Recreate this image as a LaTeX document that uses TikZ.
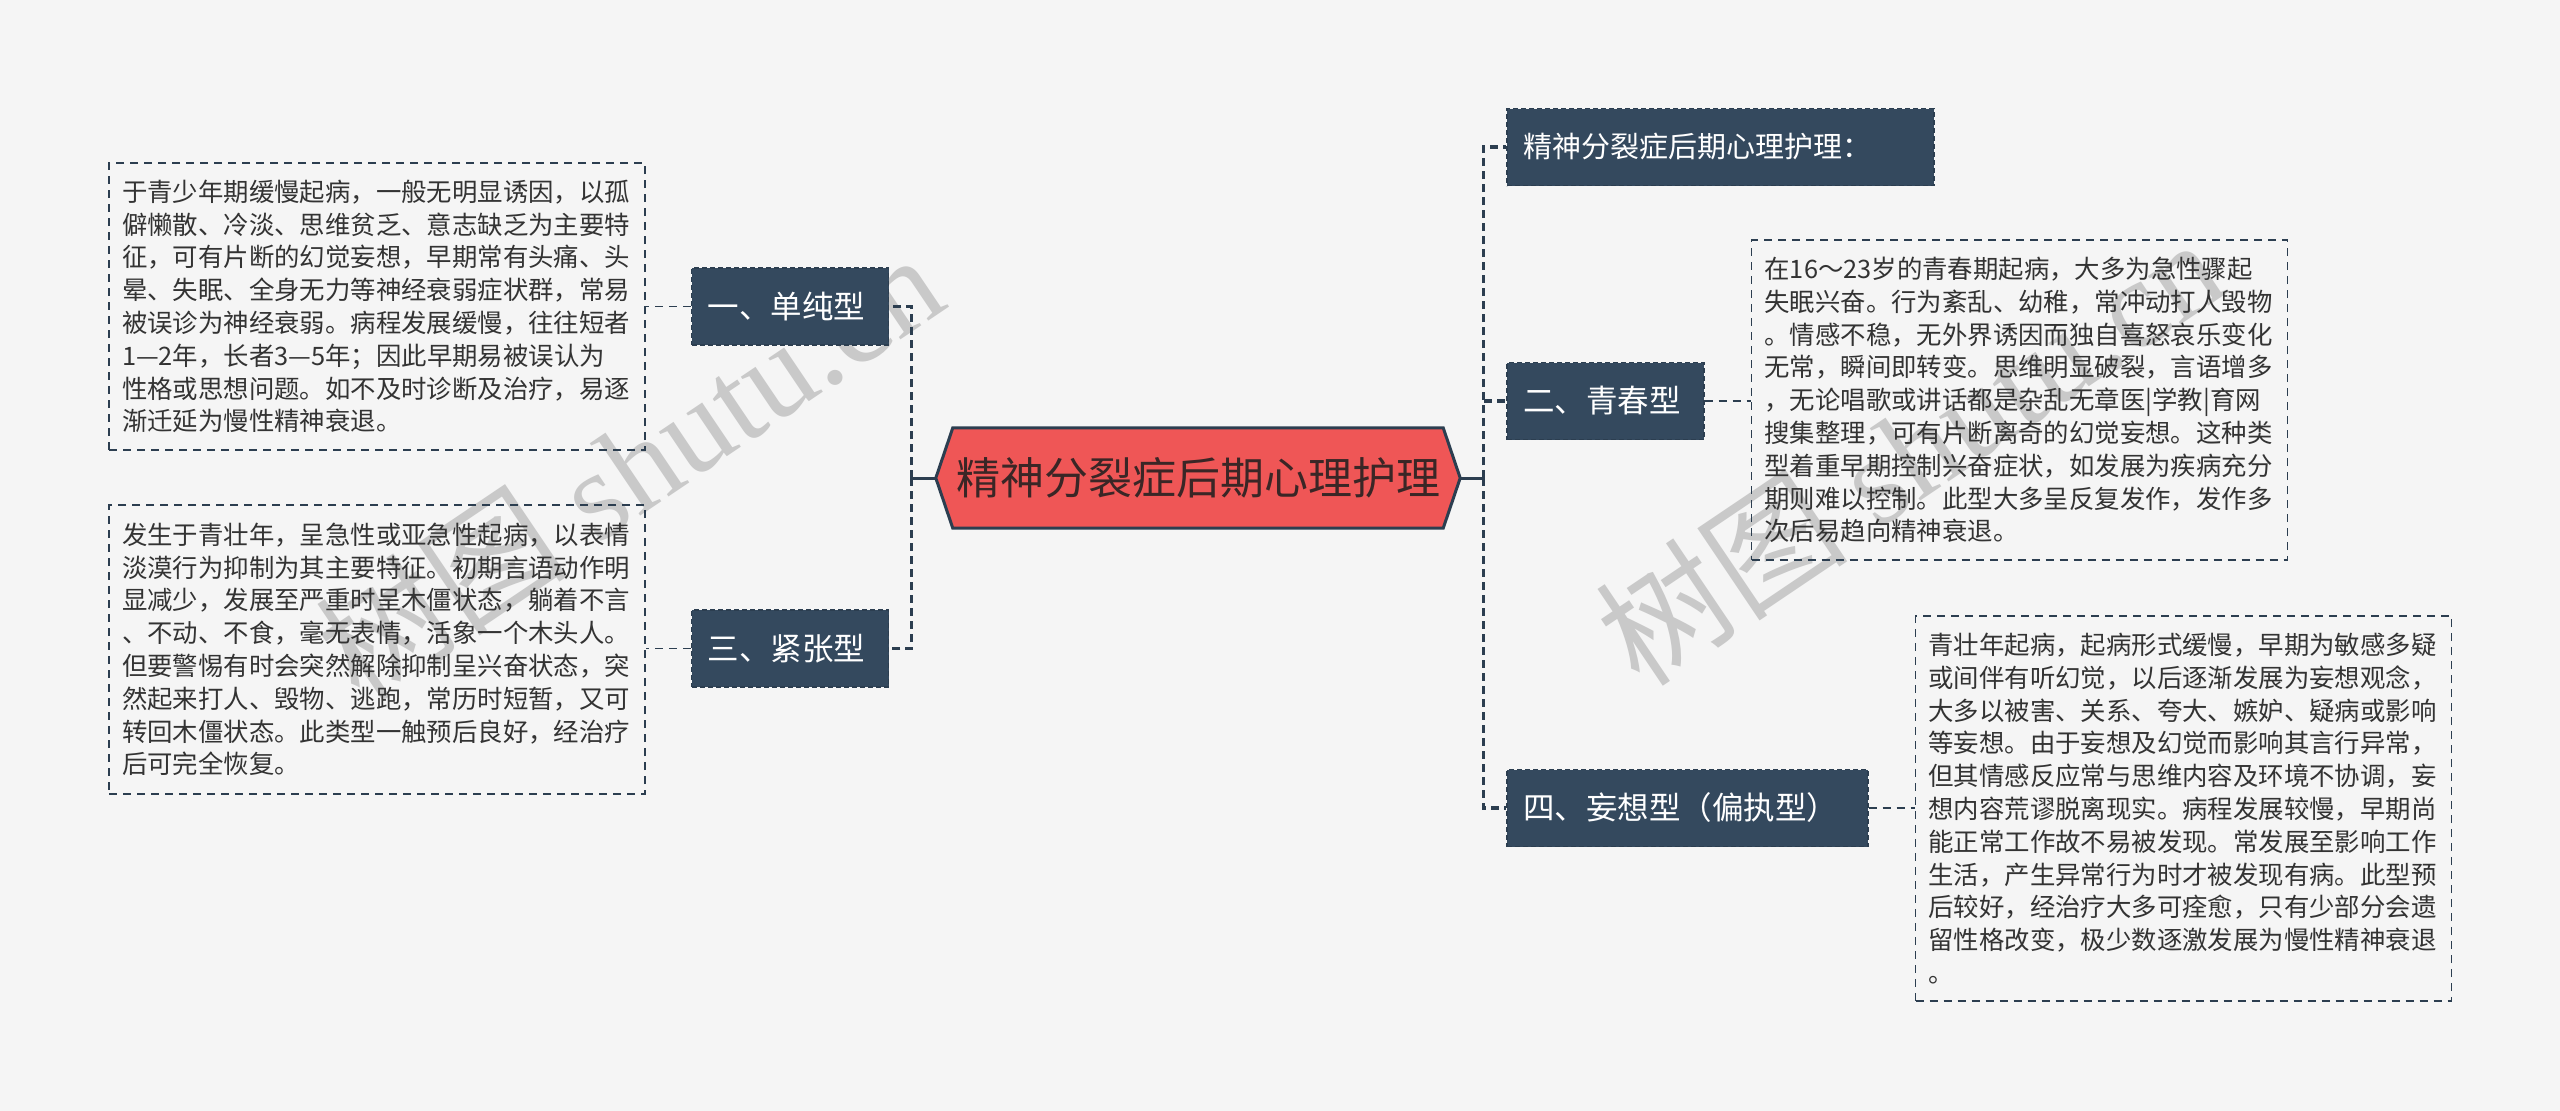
\documentclass[tikz,border=0pt]{standalone}
\usepackage{fontspec}
\newfontfamily\cjk{Noto Sans CJK SC}
\newfontfamily\wmserif{Liberation Serif}
\usetikzlibrary{backgrounds}
\definecolor{bgc}{HTML}{F5F5F5}
\definecolor{navy}{HTML}{34495E}
\definecolor{linec}{HTML}{2C3E50}
\definecolor{hexred}{HTML}{EF5656}
\definecolor{txt}{HTML}{333333}
\definecolor{hextxt}{HTML}{3A2626}
\definecolor{wm}{HTML}{C9C9C9}
\begin{document}
\begin{tikzpicture}[x=1pt,y=-1pt,
  descbox/.style={draw=linec, line width=1.8pt, dash pattern=on 8pt off 6pt,
    text=txt, font=\cjk\fontsize{25.4}{32.8}\selectfont, align=left,
    text width=510pt, inner xsep=13pt, inner ysep=0pt},
  cat/.style={fill=navy, draw=linec, line width=1.2pt, dash pattern=on 5pt off 3pt,
    text=white, font=\cjk\fontsize{31.5}{36}\selectfont, align=left,
    minimum height=77pt, inner xsep=16pt, inner ysep=0pt},
  busline/.style={draw=linec, line width=3.2pt, dash pattern=on 8pt off 5pt},
  linkline/.style={draw=linec, line width=1.8pt, dash pattern=on 8pt off 6pt},
  stemline/.style={draw=linec, line width=3pt},
  wmtext/.style={text=wm, inner sep=0pt, rotate=34, anchor=base west,
    font=\cjk\fontsize{127}{127}\selectfont}
]
\begin{scope}[on background layer]
\fill[bgc] (0,0) rectangle (2560,1111);
\end{scope}
\useasboundingbox (0,0) rectangle (2560,1111);

% watermarks
\node[wmtext] (wmL) at (360,705) {树图{\wmserif\ shutu.cn}};
\node[wmtext] (wmR) at (1640,690) {树图{\wmserif\ shutu.cn}};

% central node
\node[minimum width=524pt, minimum height=100pt, inner sep=0pt, text=hextxt,
  font=\cjk\fontsize{44}{50}\selectfont] (hex) at (1198,478) {精神分裂症后期心理护理};
\begin{scope}[on background layer]
\draw[fill=hexred, draw=linec, line width=3pt, line join=miter]
  (hex.west) -- ([xshift=17pt]hex.north west) -- ([xshift=-17pt]hex.north east)
  -- (hex.east) -- ([xshift=-17pt]hex.south east) -- ([xshift=17pt]hex.south west) -- cycle;
\end{scope}

% category nodes
\node[cat, text width=165pt] (n1) at (790,306.5) {一、单纯型};
\node[cat, text width=165pt] (n3) at (790,648.5) {三、紧张型};
\node[cat, text width=395pt, font=\cjk\fontsize{29}{34}\selectfont] (nt) at (1720.5,147) {精神分裂症后期心理护理：};
\node[cat, text width=165pt] (n2) at (1605.5,401) {二、青春型};
\node[cat, text width=329pt] (n4) at (1687.5,808) {四、妄想型（偏执型）};

% description boxes
\node[descbox, minimum height=287pt] (bL1) at (377,306.5) {于青少年期缓慢起病，一般无明显诱因，以孤\\
僻懒散、冷淡、思维贫乏、意志缺乏为主要特\\
征，可有片断的幻觉妄想，早期常有头痛、头\\
晕、失眠、全身无力等神经衰弱症状群，常易\\
被误诊为神经衰弱。病程发展缓慢，往往短者\\
1—2年，长者3—5年；因此早期易被误认为\\
性格或思想问题。如不及时诊断及治疗，易逐\\
渐迁延为慢性精神衰退。};

\node[descbox, minimum height=289pt] (bL2) at (377,649.5) {发生于青壮年，呈急性或亚急性起病，以表情\\
淡漠行为抑制为其主要特征。初期言语动作明\\
显减少，发展至严重时呈木僵状态，躺着不言\\
、不动、不食，毫无表情，活象一个木头人。\\
但要警惕有时会突然解除抑制呈兴奋状态，突\\
然起来打人、毁物、逃跑，常历时短暂，又可\\
转回木僵状态。此类型一触预后良好，经治疗\\
后可完全恢复。};

\node[descbox, minimum height=320pt] (bR1) at (2019.5,400) {在16～23岁的青春期起病，大多为急性骤起\\
失眠兴奋。行为紊乱、幼稚，常冲动打人毁物\\
。情感不稳，无外界诱因而独自喜怒哀乐变化\\
无常，瞬间即转变。思维明显破裂，言语增多\\
，无论唱歌或讲话都是杂乱无章医|学教|育网\\
搜集整理，可有片断离奇的幻觉妄想。这种类\\
型着重早期控制兴奋症状，如发展为疾病充分\\
期则难以控制。此型大多呈反复发作，发作多\\
次后易趋向精神衰退。};

\node[descbox, minimum height=385pt] (bR2) at (2183.5,808.5) {青壮年起病，起病形式缓慢，早期为敏感多疑\\
或间伴有听幻觉，以后逐渐发展为妄想观念，\\
大多以被害、关系、夸大、嫉妒、疑病或影响\\
等妄想。由于妄想及幻觉而影响其言行异常，\\
但其情感反应常与思维内容及环境不协调，妄\\
想内容荒谬脱离现实。病程发展较慢，早期尚\\
能正常工作故不易被发现。常发展至影响工作\\
生活，产生异常行为时才被发现有病。此型预\\
后较好，经治疗大多可痊愈，只有少部分会遗\\
留性格改变，极少数逐激发展为慢性精神衰退\\
。};

% connectors
\draw[stemline] (hex.west) -- ++(-24,0) coordinate (lb);
\draw[busline] (lb) |- (n1.east);
\draw[busline] (lb) |- (n3.east);
\draw[stemline] (hex.east) -- ++(23,0) coordinate (rb);
\draw[busline] (rb) |- (nt.west);
\draw[busline] (rb) |- (n2.west);
\draw[busline] (rb) |- (n4.west);

\draw[linkline] (n1.west) -- (n1.west -| bL1.east);
\draw[linkline] (n3.west) -- (n3.west -| bL2.east);
\draw[linkline] (n2.east) -- (n2.east -| bR1.west);
\draw[linkline] (n4.east) -- (n4.east -| bR2.west);
\end{tikzpicture}
\end{document}
